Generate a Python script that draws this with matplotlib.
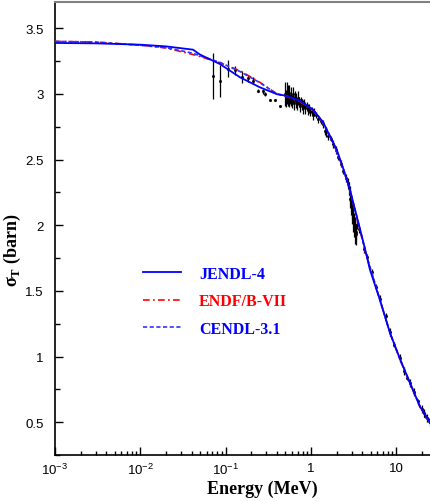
import matplotlib
matplotlib.use('Agg')
import matplotlib.pyplot as plt
from matplotlib.ticker import FixedLocator, FixedFormatter, LogLocator, NullFormatter, MultipleLocator

# evaluated data (energy in MeV, total cross section in barn)
jendl_e = [1e-3, 3e-3, 1e-2, 0.02, 0.0415, 0.05, 0.086, 0.148, 0.253, 0.40, 0.52, 0.75,
           1.06, 1.39, 1.82, 2.0, 2.4, 2.87, 3.44, 3.94, 4.5, 4.93, 6.46, 8.46, 11.1,
           14.5, 19.0, 23.8, 25.5]
jendl_s = [3.388, 3.385, 3.375, 3.362, 3.337, 3.30, 3.227, 3.126, 3.05, 2.998, 2.985, 2.945,
           2.88, 2.785, 2.63, 2.58, 2.43, 2.27, 2.07, 1.92, 1.77, 1.66, 1.43, 1.18, 0.98,
           0.80, 0.62, 0.52, 0.49]

endf_e = [1e-3, 3e-3, 1e-2, 0.02, 0.0415, 0.05, 0.086, 0.148, 0.253, 0.40, 0.52, 0.75,
          1.06, 1.39, 1.82, 2.4, 2.87, 3.44, 4.5, 6.46, 8.46, 11.1, 14.5, 19.0, 23.8, 25.5]
endf_s = [3.40, 3.395, 3.372, 3.35, 3.30, 3.285, 3.237, 3.176, 3.088, 3.00, 2.98, 2.94,
          2.875, 2.78, 2.63, 2.43, 2.26, 2.06, 1.76, 1.43, 1.18, 0.975, 0.795, 0.615, 0.515, 0.49]

cendl_e = [1e-3, 3e-3, 1e-2, 0.02, 0.0415, 0.05, 0.086, 0.148, 0.253, 0.40, 0.52, 0.75,
           1.06, 1.39, 1.82, 2.4, 2.87, 3.44, 4.5, 6.46, 8.46, 11.1, 14.5, 19.0, 23.8, 25.5]
cendl_s = [3.40, 3.395, 3.37, 3.352, 3.31, 3.29, 3.24, 3.17, 3.085, 3.00, 2.985, 2.945,
           2.88, 2.785, 2.63, 2.43, 2.27, 2.07, 1.77, 1.43, 1.18, 0.98, 0.80, 0.62, 0.52, 0.49]

# experimental points
exp_e = [0.071, 0.086, 0.106, 0.128, 0.155, 0.183, 0.210, 0.242, 0.272, 0.290, 0.332, 0.380, 0.434,
         0.50, 0.51, 0.52, 0.53, 0.54, 0.55, 0.56, 0.57, 0.58, 0.60, 0.61, 0.62, 0.64, 0.65,
         0.67, 0.69, 0.70, 0.72, 0.74, 0.76, 0.78, 0.80, 0.83, 0.86, 0.89, 0.92, 0.95, 0.98,
         1.02, 1.06, 1.10, 1.15, 1.22, 1.30, 1.38, 1.45, 1.52, 1.60, 1.70, 1.80, 1.95, 2.10,
         2.25, 2.40, 2.55, 2.70, 2.78, 2.85, 2.90, 2.95, 3.00, 3.05, 3.10, 3.15, 3.20, 3.25,
         3.30, 3.35, 3.40, 3.50, 3.65, 4.2, 4.6, 5.2, 5.8, 6.5, 7.5, 8.5, 9.5, 11.0, 12.5,
         13.5, 14.5, 16.0, 18.0, 20.0, 21.0, 22.0, 23.0, 24.0, 25.0]
exp_s = [3.14, 3.10, 3.193, 3.18, 3.13, 3.118, 3.10, 3.024, 3.02, 2.998, 2.953, 2.953, 2.909,
         3.00, 2.96, 3.02, 2.97, 2.99, 2.95, 3.01, 2.96, 2.98, 2.94, 3.00, 2.96, 2.93, 2.98,
         2.95, 2.92, 2.97, 2.94, 2.91, 2.95, 2.92, 2.90, 2.93, 2.89, 2.91, 2.88, 2.89, 2.86,
         2.87, 2.84, 2.86, 2.84, 2.81, 2.79, 2.77, 2.72, 2.71, 2.68, 2.66, 2.62, 2.57, 2.52,
         2.47, 2.41, 2.36, 2.32, 2.28, 2.24, 2.20, 2.16, 2.10, 2.12, 2.05, 2.08, 2.00, 1.96,
         1.98, 1.93, 1.95, 2.00, 1.97, 1.82, 1.76, 1.64, 1.53, 1.44, 1.31, 1.19, 1.09, 0.99, 0.89,
         0.84, 0.80, 0.73, 0.66, 0.60, 0.57, 0.55, 0.53, 0.51, 0.50]
exp_err = [0.175, 0.12, 0.067, 0.036, 0.045, 0.026, 0.027, 0.013, 0.02, 0.013, 0.01, 0.01, 0.01,
           0.09, 0.06, 0.07, 0.05, 0.08, 0.05, 0.06, 0.04, 0.07, 0.05, 0.05, 0.04, 0.05, 0.04,
           0.06, 0.04, 0.05, 0.04, 0.05, 0.03, 0.04, 0.05, 0.03, 0.04, 0.03, 0.04, 0.03, 0.03,
           0.03, 0.04, 0.03, 0.02, 0.03, 0.02, 0.03, 0.03, 0.04, 0.03, 0.02, 0.03, 0.03, 0.02,
           0.03, 0.02, 0.03, 0.04, 0.05, 0.06, 0.07, 0.08, 0.09, 0.07, 0.10, 0.06, 0.09, 0.10,
           0.07, 0.08, 0.06, 0.03, 0.03, 0.03, 0.02, 0.03, 0.02, 0.03, 0.02, 0.03, 0.02, 0.03, 0.03,
           0.02, 0.03, 0.03, 0.02, 0.03, 0.03, 0.02, 0.03, 0.02, 0.03]

xtick_vals = [1e-3, 1e-2, 1e-1, 1, 10]
xtick_labels = [r'$\mathdefault{10^{-3}}$', r'$\mathdefault{10^{-2}}$', r'$\mathdefault{10^{-1}}$', '1', '10']

plt.rcParams['font.family'] = 'Liberation Sans'

fig = plt.figure(figsize=(4.31, 5.02), dpi=100)
ax = fig.add_axes([55/431, 46/502, 376/431, 453/502])

ax.errorbar(exp_e, exp_s, yerr=exp_err, fmt='s', ms=1.0, color='black',
            elinewidth=0.9, capsize=0, zorder=2)
ax.plot(jendl_e, jendl_s, color='#0000ff', lw=1.3, label='JENDL-4', zorder=4)
ax.plot(endf_e, endf_s, color='#ff0000', lw=1.2, linestyle=(0, (4, 2, 1, 2)), label='ENDF/B-VII', zorder=3)
ax.plot(cendl_e, cendl_s, color='#3333ff', lw=1.2, linestyle=(0, (2.5, 1.5)), label='CENDL-3.1', zorder=3)

ax.set_xscale('log')
ax.set_xlim(1e-3, 25.6)
ax.set_ylim(0.25, 3.7)

ax.xaxis.set_major_locator(FixedLocator(xtick_vals))
ax.xaxis.set_major_formatter(FixedFormatter(xtick_labels))
ax.xaxis.set_minor_locator(LogLocator(base=10, subs=range(2, 10), numticks=20))
ax.xaxis.set_minor_formatter(NullFormatter())
ax.yaxis.set_minor_locator(MultipleLocator(0.25))
ax.set_yticks([0.5, 1, 1.5, 2, 2.5, 3, 3.5])
ax.set_yticklabels(['0.5', '1', '1.5', '2', '2.5', '3', '3.5'])

ax.tick_params(which='both', direction='in', top=False, right=False, labelsize=9.5, width=1)
ax.tick_params(axis='y', which='major', length=6, pad=8)
ax.tick_params(axis='y', which='minor', length=3.8)
ax.tick_params(axis='x', which='major', length=6, pad=5)
ax.tick_params(axis='x', which='minor', length=2.6)

ax.spines['right'].set_visible(False)
ax.spines['top'].set_color('#808080')
ax.spines['top'].set_linewidth(1.5)
ax.spines['left'].set_linewidth(1.2)
ax.spines['bottom'].set_linewidth(1.2)

ax.set_xlabel('Energy (MeV)', family='Liberation Serif', weight='bold', fontsize=13)
ax.xaxis.set_label_coords(0.552, -0.055)
ax.set_ylabel(r'σ$_{\mathdefault{T}}$ (barn)', family='Liberation Serif', weight='bold', fontsize=13)
ax.yaxis.set_label_coords(-0.085, 0.455)

leg = ax.legend(loc='upper left', bbox_to_anchor=(0.213, 0.435), frameon=False,
                handlelength=2.4, handletextpad=1.1, labelspacing=0.72, borderpad=0,
                prop={'family': 'Liberation Serif', 'weight': 'bold', 'size': 11.5},
                labelcolor=['#0000ff', '#ff0000', '#0000ff'])

fig.savefig('out.png', dpi=100)
